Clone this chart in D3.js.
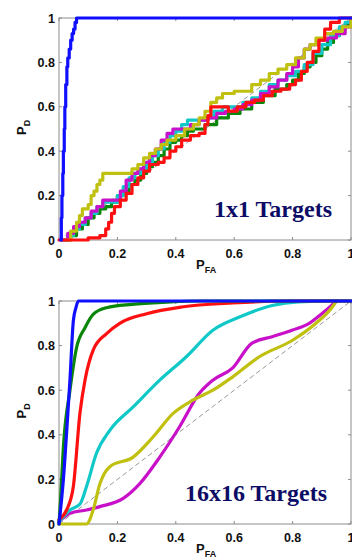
<!DOCTYPE html>
<html><head><meta charset="utf-8">
<script src="https://cdn.jsdelivr.net/npm/d3@7"></script>
<style>body{margin:0;background:#fff}svg{display:block}</style>
</head><body>
<svg id="c" width="352" height="557"></svg>
<script>
const ticks = [0, 0.2, 0.4, 0.6, 0.8, 1];
const tickLabels = ["0", "0.2", "0.4", "0.6", "0.8", "1"];
const seriesNames = ["blue", "green", "red", "cyan", "magenta", "yellow"];
const seriesColors = ["#1010ff", "#0a860a", "#ff1010", "#10c8c8", "#c810c8", "#c0c010"];

// Panel 1: 1x1 Targets  [PFA, PD]
const top_blue = [[0.005,0],[0.008,0.1],[0.01,0.2],[0.013,0.3],[0.015,0.4],[0.018,0.5],[0.02,0.6],[0.023,0.7],[0.027,0.78],[0.03,0.82],[0.035,0.86],[0.04,0.9],[0.045,0.93],[0.05,0.95],[0.055,0.98],[0.06,1],[1,1]];
const top_green = [[0.02,0],[0.04,0.02],[0.06,0.05],[0.08,0.07],[0.1,0.1],[0.12,0.12],[0.14,0.14],[0.16,0.15],[0.18,0.17],[0.2,0.2],[0.22,0.22],[0.24,0.25],[0.26,0.27],[0.28,0.3],[0.3,0.33],[0.32,0.35],[0.34,0.38],[0.36,0.41],[0.38,0.44],[0.4,0.45],[0.42,0.47],[0.44,0.49],[0.46,0.5],[0.5,0.52],[0.54,0.55],[0.58,0.57],[0.62,0.59],[0.66,0.62],[0.7,0.65],[0.74,0.68],[0.78,0.7],[0.8,0.72],[0.82,0.75],[0.84,0.78],[0.86,0.8],[0.88,0.83],[0.9,0.86],[0.92,0.89],[0.94,0.92],[0.96,0.95],[0.98,0.97],[1,1]];
const top_red = [[0,0],[0.1,0.01],[0.14,0.02],[0.16,0.05],[0.17,0.08],[0.18,0.12],[0.19,0.15],[0.21,0.18],[0.23,0.21],[0.25,0.25],[0.27,0.28],[0.29,0.31],[0.31,0.34],[0.34,0.35],[0.36,0.37],[0.38,0.4],[0.4,0.42],[0.42,0.45],[0.45,0.47],[0.48,0.48],[0.5,0.52],[0.51,0.56],[0.52,0.6],[0.55,0.6],[0.58,0.58],[0.61,0.6],[0.64,0.62],[0.67,0.63],[0.7,0.65],[0.73,0.67],[0.76,0.68],[0.79,0.7],[0.81,0.72],[0.83,0.76],[0.85,0.8],[0.87,0.85],[0.89,0.9],[0.91,0.95],[0.93,0.98],[0.96,1],[1,1]];
const top_cyan = [[0.01,0],[0.03,0.02],[0.05,0.05],[0.07,0.07],[0.09,0.1],[0.11,0.12],[0.13,0.15],[0.15,0.17],[0.18,0.17],[0.2,0.2],[0.22,0.24],[0.24,0.28],[0.26,0.3],[0.28,0.32],[0.3,0.35],[0.32,0.38],[0.34,0.41],[0.36,0.44],[0.38,0.47],[0.4,0.49],[0.42,0.52],[0.44,0.54],[0.47,0.54],[0.5,0.55],[0.53,0.58],[0.56,0.6],[0.6,0.6],[0.63,0.62],[0.66,0.64],[0.69,0.67],[0.72,0.7],[0.75,0.72],[0.78,0.74],[0.81,0.76],[0.84,0.79],[0.87,0.84],[0.9,0.88],[0.93,0.92],[0.96,0.96],[0.98,0.98],[1,1]];
const top_magenta = [[0.01,0],[0.03,0.03],[0.05,0.06],[0.07,0.08],[0.09,0.1],[0.11,0.13],[0.13,0.15],[0.15,0.18],[0.19,0.18],[0.21,0.22],[0.23,0.27],[0.25,0.3],[0.27,0.32],[0.29,0.35],[0.31,0.38],[0.33,0.41],[0.35,0.45],[0.37,0.48],[0.39,0.5],[0.42,0.5],[0.45,0.52],[0.48,0.54],[0.51,0.55],[0.54,0.57],[0.57,0.58],[0.6,0.59],[0.63,0.61],[0.66,0.63],[0.69,0.66],[0.72,0.69],[0.75,0.72],[0.78,0.75],[0.8,0.78],[0.82,0.82],[0.84,0.86],[0.86,0.88],[0.89,0.9],[0.92,0.91],[0.95,0.93],[0.98,0.96],[1,1]];
const top_yellow = [[0.02,0],[0.04,0.04],[0.06,0.08],[0.07,0.11],[0.08,0.14],[0.1,0.16],[0.11,0.2],[0.12,0.22],[0.13,0.25],[0.14,0.27],[0.15,0.3],[0.23,0.3],[0.25,0.32],[0.27,0.34],[0.29,0.37],[0.31,0.39],[0.33,0.41],[0.35,0.43],[0.37,0.45],[0.4,0.47],[0.43,0.5],[0.46,0.52],[0.48,0.55],[0.5,0.58],[0.52,0.62],[0.54,0.64],[0.56,0.66],[0.6,0.67],[0.63,0.67],[0.66,0.7],[0.69,0.72],[0.72,0.75],[0.75,0.77],[0.78,0.79],[0.81,0.82],[0.84,0.86],[0.86,0.88],[0.88,0.91],[0.91,0.93],[0.94,0.94],[0.97,0.96],[1,1]];

// Panel 2: 16x16 Targets
const bot_blue = [[0,0],[0.015,0.2],[0.028,0.45],[0.0375,0.645],[0.049,0.91],[0.058,0.97],[0.066,1],[1,1]];
const bot_green = [[0,0],[0.005,0.1],[0.015,0.346],[0.0375,0.6],[0.06,0.79],[0.089,0.88],[0.117,0.94],[0.163,0.97],[0.25,0.985],[0.37,0.995],[0.48,1],[1,1]];
const bot_red = [[0,0.02],[0.026,0.063],[0.049,0.167],[0.072,0.5],[0.089,0.645],[0.117,0.78],[0.163,0.854],[0.208,0.9],[0.3,0.943],[0.42,0.973],[0.595,0.991],[0.8,1],[1,1]];
const bot_cyan = [[0,0.01],[0.0375,0.063],[0.072,0.09],[0.094,0.167],[0.128,0.316],[0.174,0.42],[0.254,0.525],[0.345,0.645],[0.436,0.75],[0.527,0.869],[0.618,0.928],[0.73,0.98],[0.82,0.996],[0.94,1],[1,1]];
const bot_magenta = [[0,0.01],[0.0375,0.048],[0.094,0.063],[0.14,0.078],[0.22,0.115],[0.276,0.18],[0.345,0.3],[0.413,0.436],[0.48,0.585],[0.527,0.645],[0.595,0.7],[0.66,0.81],[0.73,0.84],[0.8,0.87],[0.857,0.9],[0.9,0.943],[0.94,0.988],[0.95,1]];
const bot_yellow = [[0,0],[0.094,0],[0.117,0.063],[0.14,0.18],[0.174,0.257],[0.254,0.3],[0.322,0.39],[0.39,0.495],[0.458,0.555],[0.527,0.6],[0.595,0.66],[0.686,0.75],[0.8,0.824],[0.88,0.9],[0.936,0.973],[0.95,1]];

const panels = [
  {title: "1x1 Targets", top: 18, bottom: 240, series: [top_green, top_cyan, top_magenta, top_yellow, top_red, top_blue], order: [1,3,4,5,2,0], curve: d3.curveStepAfter, tx: 332, ty: 217},
  {title: "16x16 Targets", top: 301, bottom: 524, series: [bot_magenta, bot_yellow, bot_cyan, bot_red, bot_green, bot_blue], order: [4,5,3,2,1,0], curve: d3.curveMonotoneX, tx: 327, ty: 501}
];

const svg = d3.select("#c");
const x = d3.scaleLinear().domain([0,1]).range([59, 351]);

panels.forEach(p => {
  const y = d3.scaleLinear().domain([0,1]).range([p.bottom, p.top]);
  const g = svg.append("g");
  g.append("rect").attr("x", x(0)).attr("y", y(1)).attr("width", x(1)-x(0)).attr("height", y(0)-y(1))
    .attr("fill", "none").attr("stroke", "#8c8c8c").attr("stroke-width", 1);
  ticks.forEach(t => {
    g.append("line").attr("x1", x(t)).attr("x2", x(t)).attr("y1", y(0)).attr("y2", y(0)-3).attr("stroke", "#8c8c8c");
    g.append("line").attr("x1", x(t)).attr("x2", x(t)).attr("y1", y(1)).attr("y2", y(1)+3).attr("stroke", "#8c8c8c");
    g.append("line").attr("x1", x(0)).attr("x2", x(0)+3).attr("y1", y(t)).attr("y2", y(t)).attr("stroke", "#8c8c8c");
    g.append("line").attr("x1", x(1)).attr("x2", x(1)-3).attr("y1", y(t)).attr("y2", y(t)).attr("stroke", "#8c8c8c");
  });
  g.selectAll(".xl").data(ticks).enter().append("text")
    .attr("x", d => x(d)).attr("y", y(0) + 17.5).attr("text-anchor", "middle")
    .attr("font-family", "Liberation Sans, Arial, sans-serif").attr("font-weight", "bold").attr("font-size", 12.5)
    .attr("fill", "#111").text((d,i) => tickLabels[i]);
  g.selectAll(".yl").data(ticks).enter().append("text")
    .attr("x", x(0) - 4).attr("y", d => y(d) + 4.5).attr("text-anchor", "end")
    .attr("font-family", "Liberation Sans, Arial, sans-serif").attr("font-weight", "bold").attr("font-size", 12.5)
    .attr("fill", "#111").text((d,i) => tickLabels[i]);
  g.append("line").attr("x1", x(0)).attr("y1", y(0)).attr("x2", x(1)).attr("y2", y(1))
    .attr("stroke", "#999").attr("stroke-width", 1).attr("stroke-dasharray", "5,3");
  const line = d3.line().x(d => x(d[0])).y(d => y(d[1])).curve(p.curve);
  p.series.forEach((s, i) => {
    g.append("path").attr("d", line(s)).attr("fill", "none")
      .attr("stroke", seriesColors[p.order[i]]).attr("stroke-width", 3.2)
      .attr("stroke-linejoin", "round").attr("stroke-linecap", "round");
  });
  const xlab = g.append("text").attr("x", 196).attr("y", y(0) + 29)
    .attr("font-family", "Liberation Sans, Arial, sans-serif").attr("font-weight", "bold").attr("font-size", 13).attr("fill", "#111");
  xlab.append("tspan").text("P");
  xlab.append("tspan").attr("dy", 4).attr("font-size", 9).text("FA");
  const ylab = g.append("text").attr("transform", `translate(26,${(y(0)+y(1))/2 + 6}) rotate(-90)`)
    .attr("font-family", "Liberation Sans, Arial, sans-serif").attr("font-weight", "bold").attr("font-size", 13).attr("fill", "#111");
  ylab.append("tspan").text("P");
  ylab.append("tspan").attr("dy", 4).attr("font-size", 9).text("D");
  g.append("text").attr("x", p.tx).attr("y", p.ty).attr("text-anchor", "end")
    .attr("font-family", "Liberation Serif, Times New Roman, serif").attr("font-weight", "bold").attr("font-size", 24)
    .attr("fill", "#0c0c66").text(p.title);
});
</script>
</body></html>
